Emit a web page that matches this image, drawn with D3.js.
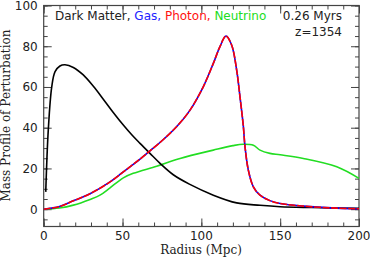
<!DOCTYPE html>
<html lang="en">
<head>
  <meta charset="UTF-8">
  <title>Mass Profile of Perturbation</title>
  <script src="https://d3js.org/d3.v7.min.js"></script>
  <style>
  body{ margin:0; background:#fff; }
  text{ font-family:"DejaVu Sans", sans-serif; fill:#222; }
  .title{ font-family:"DejaVu Serif", serif; }
  .curve{ fill:none; stroke-width:1.6; }
  </style>
</head>
<body>
  <div class="container"></div>
  <script>
  // values
  var dmRadius  = [1.3, 2.9, 5.1, 7.2, 10.3, 13.5, 18.8, 25.1, 31.5, 37.8, 44, 50.5, 56, 61.1, 67.4, 73.8, 82.2, 92.4, 107.6, 122.4, 137.2, 150, 170, 200];
  var dmValue   = [8.5, 38.8, 60.1, 67.5, 70.3, 70.9, 69.6, 65.9, 60.3, 54.0, 47.6, 41.3, 36.4, 32.3, 27.4, 22.5, 16.9, 12.3, 6.9, 3.1, 1.9, 1.2, 0.8, 0.4];
  var gasRadius = [0, 10, 18.8, 29.4, 42.1, 50.5, 61.1, 67.4, 75.9, 84.4, 92.6, 101.2, 107.6, 111.8, 115.6, 119.2, 122.4, 124.5, 126.6, 127.7, 129.8, 133, 137.2, 143.5, 150, 164.7, 185.9, 200];
  var gasValue  = [0, 1.3, 4.1, 7.6, 13.4, 18.3, 24.6, 28.6, 34.2, 40.6, 48.4, 60.1, 71.6, 79.8, 85, 80.6, 68.3, 55.2, 41, 30.6, 19.2, 11, 6.9, 4.2, 2.8, 1.5, 0.5, 0.2];
  var photonValue = gasValue.slice();
  var nuRadius  = [0, 10, 18.8, 29.4, 35.7, 42.1, 50.5, 56.8, 71.7, 86.5, 107.6, 120, 126.6, 133, 137.2, 143.5, 150, 164.7, 185.9, 200];
  var nuValue   = [0, 0.6, 2, 4.8, 6.9, 10.5, 15.4, 17.6, 21.1, 24.9, 29, 31.2, 31.9, 31.4, 29, 27.4, 26.7, 24.9, 20.8, 15.1];
  var xTicks = [0, 50, 100, 150, 200];
  var yTicks = [0, 20, 40, 60, 80, 100];

  var w = 370, h = 259;
  var m = {left: 43.7, right: 359, top: 5.5, bottom: 226.5};

  var xScale = d3.scaleLinear().domain([0, 200]).range([m.left, m.right]);
  var yScale = d3.scaleLinear().domain([-8.5, 100]).range([m.bottom, m.top]);

  var svg = d3.select('.container').append('svg')
      .attr('width', w).attr('height', h);

  // ticks on all four sides, minor + major
  function drawTicks(axisFn, scale, major, minorStep, lo, hi, pos){
    var minors = d3.range(Math.ceil(lo/minorStep)*minorStep, hi + 0.01, minorStep);
    var g = svg.append('g').attr('transform', pos);
    g.call(axisFn(scale).tickValues(minors).tickSize(4).tickFormat(''));
    g.selectAll('.domain').remove();
    var g2 = svg.append('g').attr('transform', pos);
    g2.call(axisFn(scale).tickValues(major).tickSize(8).tickFormat(''));
    g2.selectAll('.domain').remove();
    svg.selectAll('.tick line').attr('stroke', '#444');
  }
  drawTicks(d3.axisTop, xScale, xTicks, 10, 0, 200, 'translate(0,' + m.bottom + ')');
  drawTicks(d3.axisBottom, xScale, xTicks, 10, 0, 200, 'translate(0,' + m.top + ')');
  drawTicks(d3.axisRight, yScale, yTicks, 5, -5, 100, 'translate(' + m.left + ',0)');
  drawTicks(d3.axisLeft, yScale, yTicks, 5, -5, 100, 'translate(' + m.right + ',0)');

  svg.append('rect')
     .attr('x', m.left).attr('y', m.top)
     .attr('width', m.right - m.left).attr('height', m.bottom - m.top)
     .attr('fill', 'none').attr('stroke', '#444').attr('stroke-width', 1.2);

  // tick labels
  svg.selectAll('.xl').data(xTicks).enter().append('text')
     .attr('x', function(d){ return xScale(d); })
     .attr('y', m.bottom + 13.5)
     .attr('text-anchor', 'middle')
     .style('font-size', '12px')
     .text(function(d){ return d; });
  svg.selectAll('.yl').data(yTicks).enter().append('text')
     .attr('x', m.left - 6)
     .attr('y', function(d){ return yScale(d) + 4.5; })
     .attr('text-anchor', 'end')
     .style('font-size', '12px')
     .text(function(d){ return d; });

  svg.append('text').attr('class', 'title')
     .attr('x', 201).attr('y', 254)
     .attr('text-anchor', 'middle')
     .style('font-size', '12px')
     .text('Radius (Mpc)');
  svg.append('text').attr('class', 'title')
     .attr('transform', 'translate(9.5,115.5) rotate(-90)')
     .attr('text-anchor', 'middle')
     .style('font-size', '12px')
     .text('Mass Profile of Perturbation');

  var line = d3.line()
      .x(function(d){ return xScale(d[0]); })
      .y(function(d){ return yScale(d[1]); })
      .curve(d3.curveCatmullRom.alpha(0.5));

  svg.append('path').attr('class', 'curve')
     .attr('d', line(d3.zip(nuRadius, nuValue)))
     .attr('stroke', '#22dd22');
  svg.append('path').attr('class', 'curve')
     .attr('d', line(d3.zip(dmRadius, dmValue)))
     .attr('stroke', '#000');
  svg.append('path').attr('class', 'curve')
     .attr('d', line(d3.zip(gasRadius, gasValue)))
     .attr('stroke', '#0000ff');
  svg.append('path').attr('class', 'curve')
     .attr('d', line(d3.zip(gasRadius, photonValue)))
     .attr('stroke', '#ff0000')
     .attr('stroke-dasharray', '7,1.5');

  // legend text
  var leg = svg.append('text')
     .attr('x', 55).attr('y', 20)
     .style('font-size', '12px');
  leg.append('tspan').text('Dark Matter, ').style('fill', '#222');
  leg.append('tspan').text('Gas, ').style('fill', '#2222ff');
  leg.append('tspan').text('Photon, ').style('fill', '#ff1111');
  leg.append('tspan').text('Neutrino').style('fill', '#22dd22');

  svg.append('text')
     .attr('x', 342).attr('y', 20)
     .attr('text-anchor', 'end')
     .style('font-size', '12px')
     .text('0.26 Myrs');
  svg.append('text')
     .attr('x', 342).attr('y', 36)
     .attr('text-anchor', 'end')
     .style('font-size', '12px')
     .text('z=1354');
  </script>
</body>
</html>
